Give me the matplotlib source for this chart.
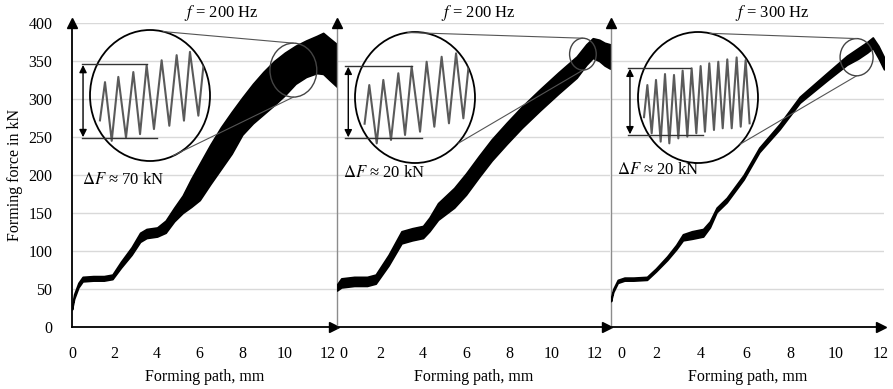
import matplotlib
matplotlib.use("Agg")
import matplotlib.pyplot as plt
import matplotlib.transforms as mtransforms
from matplotlib.patches import Ellipse, ConnectionPatch

plt.rcParams['font.family'] = ['Liberation Serif', 'DejaVu Serif']
plt.rcParams['mathtext.fontset'] = 'stix'

# --- data ---------------------------------------------------------------
# forming path (mm) and the envelope of the oscillating force (kN)
path_1 = [0, 0.1, 0.3, 0.5, 1.0, 1.5, 1.9, 2.3, 2.8, 3.2, 3.5, 4.0, 4.4, 4.8, 5.2, 5.6,
          6.0, 6.5, 7.0, 7.5, 8.0, 8.5, 9.0, 9.5, 10.0, 10.5, 11.0, 11.5, 11.8, 12.1, 12.45]
force_1_hi = [27, 43, 58, 66, 67, 67, 69, 86, 105, 124, 129, 131, 140, 157, 173, 195,
              215, 240, 263, 283, 302, 320, 336, 350, 361, 370, 377, 383, 387, 380, 372]
force_1_lo = [23, 37, 52, 60, 61, 61, 63, 78, 95, 112, 117, 119, 124, 139, 150, 158,
              167, 188, 208, 228, 253, 268, 280, 292, 305, 320, 329, 334, 333, 325, 316]

path_2 = [0, 0.2, 0.8, 1.4, 1.8, 2.4, 3.0, 3.5, 4.0, 4.3, 4.7, 5.45, 6.0, 6.6, 7.2, 7.9,
          8.6, 9.45, 10.3, 11.15, 11.6, 11.9, 12.2, 12.45, 12.7]
force_2_hi = [56, 64, 66, 66, 69, 95, 126, 130, 133, 144, 163, 183, 202, 225, 247, 269,
              290, 313, 335, 356, 372, 380, 378, 374, 372]
force_2_lo = [48, 52, 54, 54, 57, 81, 110, 114, 117, 126, 141, 157, 174, 197, 219, 241,
              262, 285, 307, 328, 345, 354, 350, 344, 340]

path_3 = [0, 0.1, 0.3, 0.6, 1.0, 1.6, 2.0, 2.5, 2.9, 3.2, 3.6, 4.1, 4.4, 4.7, 5.15, 5.6,
          5.9, 6.6, 7.5, 8.4, 9.6, 10.5, 11.0, 11.4, 11.65, 11.9, 12.15]
force_3_hi = [38, 50, 62, 65, 65, 66, 77, 93, 108, 122, 126, 129, 139, 157, 170, 188,
              200, 236, 267, 303, 334, 357, 367, 375, 381, 370, 355]
force_3_lo = [34, 46, 58, 61, 61, 62, 73, 88, 102, 114, 116, 119, 131, 151, 164, 182,
              194, 230, 260, 295, 324, 345, 353, 361, 367, 354, 339]

# magnified oscillation inside the circles (alternating peaks / troughs, circle units)
wave_1_u = [0.083, 0.125, 0.181, 0.236, 0.3, 0.361, 0.417, 0.472, 0.533, 0.597, 0.661,
            0.722, 0.783, 0.833, 0.903, 0.96]
wave_1_v = [0.31, 0.602, 0.154, 0.642, 0.179, 0.679, 0.205, 0.731, 0.244, 0.769, 0.269,
            0.808, 0.308, 0.833, 0.346, 0.86]
wave_2_u = [0.08, 0.119, 0.181, 0.236, 0.3, 0.361, 0.417, 0.472, 0.542, 0.597, 0.661,
            0.722, 0.783, 0.842, 0.903, 0.96]
wave_2_v = [0.3, 0.595, 0.150, 0.634, 0.176, 0.685, 0.214, 0.735, 0.239, 0.773, 0.277,
            0.811, 0.303, 0.837, 0.341, 0.86]
wave_3_u = [0.05, 0.078, 0.114, 0.15, 0.189, 0.225, 0.261, 0.3, 0.336, 0.372, 0.411, 0.447,
            0.486, 0.522, 0.558, 0.594, 0.633, 0.669, 0.706, 0.744, 0.781, 0.822, 0.856,
            0.897, 0.93]
wave_3_v = [0.35, 0.595, 0.227, 0.634, 0.163, 0.679, 0.150, 0.672, 0.188, 0.705, 0.201,
            0.723, 0.227, 0.740, 0.239, 0.761, 0.252, 0.773, 0.265, 0.791, 0.265, 0.806,
            0.277, 0.786, 0.303]

freqs = [200, 200, 300]
delta_f = [70, 20, 20]
x_ticks = [0, 2, 4, 6, 8, 10, 12]
y_ticks = [0, 50, 100, 150, 200, 250, 300, 350, 400]

paths = [path_1, path_2, path_3]
his = [force_1_hi, force_2_hi, force_3_hi]
los = [force_1_lo, force_2_lo, force_3_lo]
waves = [(wave_1_u, wave_1_v), (wave_2_u, wave_2_v), (wave_3_u, wave_3_v)]

# --- layout -------------------------------------------------------------
W, H = 893, 389
fig = plt.figure(figsize=(W / 100, H / 100), dpi=100)

ax_px = [(72, 337), (337, 610), (611, 884)]          # left/right edge in pixels
x_max = [12.45, 12.7, 12.15]
zero_shift = [0, 6, 10]                               # "0" label offset in px
inset_px = [(90, 30), (355, 32), (638, 32)]           # magnifier circle box (left, top)
zoom_spot = [(10.4, 338, 2.2, 71), (11.44, 359, 1.24, 42), (10.93, 355, 1.47, 49)]
link_top = [(0.61, 0.988), (0.44, 0.996), (0.6, 0.99)]
link_bot = [(0.69, 0.04), (0.86, 0.15), (0.85, 0.143)]
ref_lines = [(0.738, 0.475, 0.177, 0.558, -0.067, -0.058),
             (0.740, 0.475, 0.191, 0.558, -0.083, -0.056),
             (0.725, 0.433, 0.214, 0.542, -0.083, -0.067)]
title_x = [7.0, 6.6, 7.2]
label_pos = [(0.47, 193), (0.28, 203), (0.27, 207)]

y0, y1 = 327, 23
for i in range(3):
    l, r = ax_px[i]
    ax = fig.add_axes([l / W, (H - y0) / H, (r - l) / W, (y0 - y1) / H])
    ax.set_xlim(0, x_max[i])
    ax.set_ylim(0, 400)
    ax.set_yticks(y_ticks)
    ax.set_xticks(x_ticks)
    ax.grid(axis='y', color='#d9d9d9', lw=1)
    ax.set_axisbelow(True)
    for s in ['top', 'right']:
        ax.spines[s].set_visible(False)
    ax.spines['bottom'].set_color('black')
    ax.spines['bottom'].set_linewidth(1.3)
    if i == 0:
        ax.spines['left'].set_color('black')
        ax.spines['left'].set_linewidth(1.3)
    else:
        ax.spines['left'].set_color('#8c8c8c')
        ax.spines['left'].set_linewidth(1.0)
        ax.set_yticklabels([])
    ax.tick_params(length=0, labelsize=11.5)
    ax.tick_params(axis='x', pad=14)
    ax.tick_params(axis='y', pad=14)
    ax.set_xlabel('Forming path, mm', fontsize=11.5, labelpad=5)
    if zero_shift[i]:
        lab0 = ax.get_xticklabels()[0]
        lab0.set_transform(lab0.get_transform() + mtransforms.ScaledTranslation(
            zero_shift[i] / 100, 0, fig.dpi_scale_trans))

    # axis arrows
    ax.plot([0], [1], marker='^', color='black', ms=7, transform=ax.transAxes,
            clip_on=False, zorder=5)
    ax.plot([0.99], [0], marker='>', color='black', ms=7, transform=ax.transAxes,
            clip_on=False, zorder=5)

    # force band
    ax.fill_between(paths[i], los[i], his[i], color='black', lw=1.2, edgecolor='black',
                    zorder=3)

    # small circle marking the magnified spot
    cx, cy, ew, eh = zoom_spot[i]
    ax.add_patch(Ellipse((cx, cy), ew, eh, facecolor='none', edgecolor='#444444',
                         lw=1.0, zorder=4))

    ax.text(title_x[i], 413, r'$f$' + f' = {freqs[i]} Hz', ha='center', va='center',
            fontsize=12)
    ax.text(label_pos[i][0], label_pos[i][1], r'$\Delta F$' + f' ≈ {delta_f[i]} kN',
            ha='left', va='center', fontsize=12)

    # magnifier circle
    il, it = inset_px[i]
    axi = fig.add_axes([il / W, (H - it - 131) / H, 120 / W, 131 / H])
    axi.set_xlim(0, 1)
    axi.set_ylim(0, 1)
    axi.axis('off')
    axi.patch.set_alpha(0)
    circ = Ellipse((0.5, 0.5), 1, 1, transform=axi.transAxes, facecolor='none',
                   edgecolor='black', lw=1.3, clip_on=False)
    axi.add_patch(circ)
    line, = axi.plot(waves[i][0], waves[i][1], color='#5a5a5a', lw=1.5,
                     solid_joinstyle='round')
    line.set_clip_path(circ)

    tv, tr, bv, br, left, au = ref_lines[i]
    axi.plot([left, tr], [tv, tv], color='#333333', lw=1.0, clip_on=False)
    axi.plot([left, br], [bv, bv], color='#333333', lw=1.0, clip_on=False)
    axi.annotate('', xy=(au, bv + 0.005), xytext=(au, tv - 0.005),
                 arrowprops=dict(arrowstyle='<|-|>', color='black', lw=1.0,
                                 mutation_scale=11, shrinkA=0, shrinkB=0),
                 annotation_clip=False)

    for (u, v), target in [(link_top[i], (cx, cy + eh / 2)),
                           (link_bot[i], (cx, cy - eh / 2))]:
        con = ConnectionPatch(xyA=(u, v), coordsA=axi.transData, xyB=target,
                              coordsB=ax.transData, color='#555555', lw=0.8)
        fig.add_artist(con)

fig.text(15 / W, (H - 175) / H, 'Forming force in kN', rotation=90, ha='center',
         va='center', fontsize=11.5)

fig.savefig('out.png', dpi=100)
